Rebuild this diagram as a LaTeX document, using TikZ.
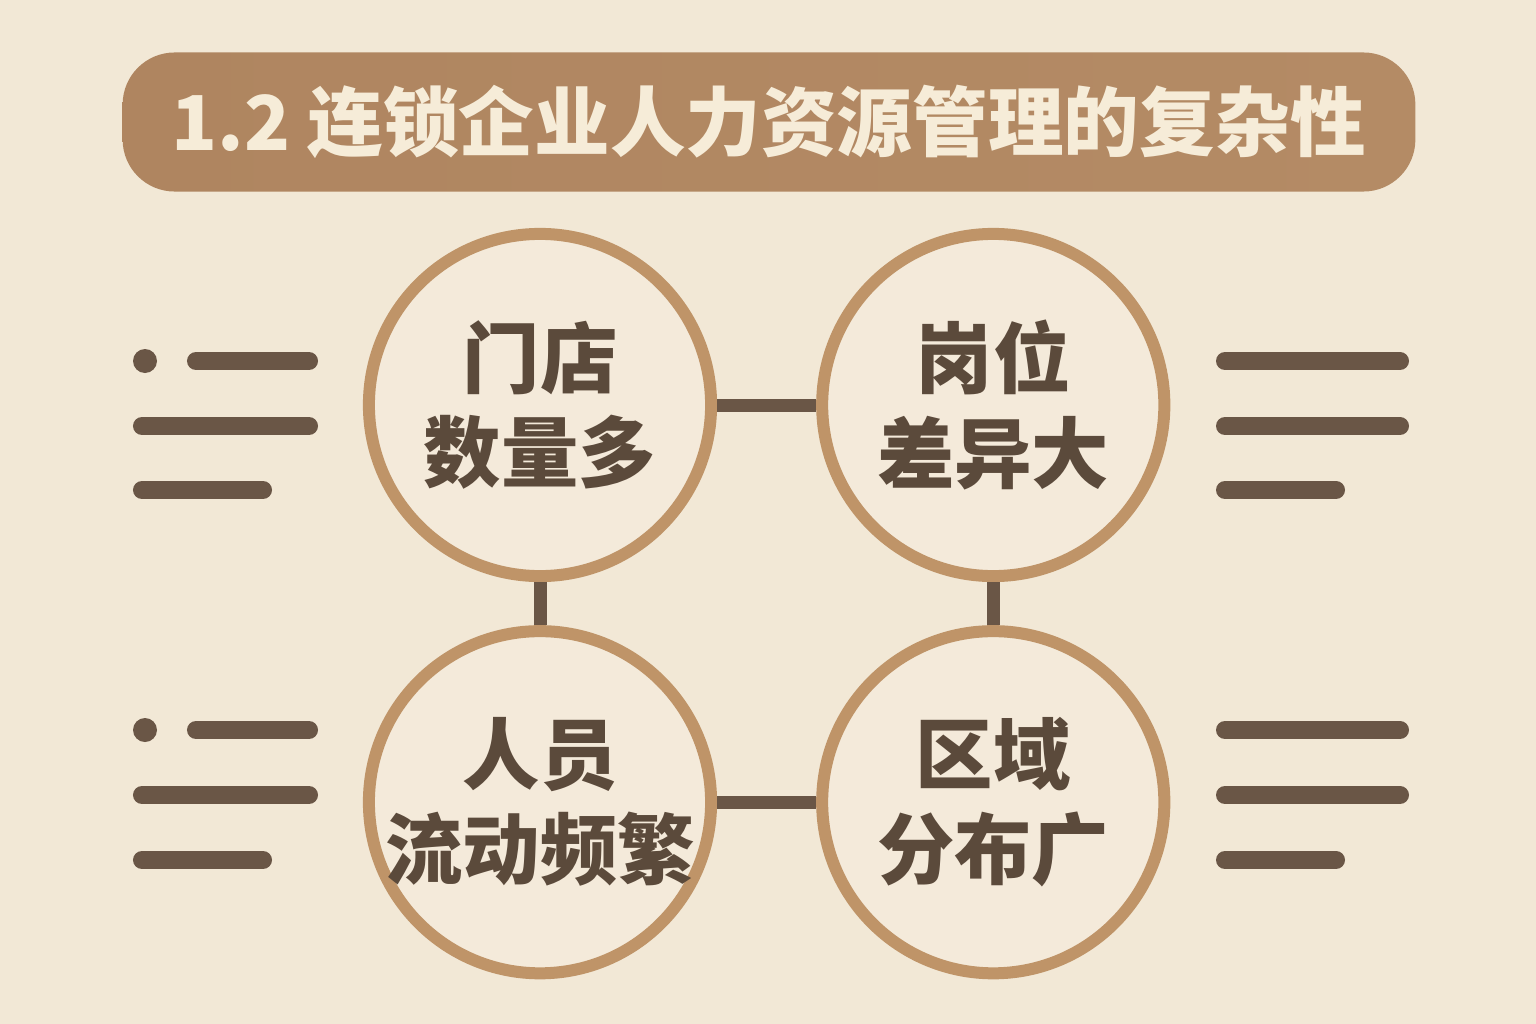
\documentclass[tikz,border=0pt]{standalone}
\usepackage{fontspec}
\usepackage{tikz}
\usetikzlibrary{positioning}
\newfontfamily\cjk{Noto Sans CJK SC}
\definecolor{paper}{HTML}{F2E8D6}
\definecolor{disc}{HTML}{F4EADA}
\definecolor{ring}{HTML}{BF9468}
\definecolor{umber}{HTML}{6A5646}
\definecolor{ink}{HTML}{5B4A3B}
\definecolor{cream}{HTML}{F6ECD8}
\definecolor{tanleft}{HTML}{AF8560}
\definecolor{tanmid}{HTML}{C09870}
\definecolor{tanright}{HTML}{B48B65}
\tikzstyle{banner} = [rectangle, rounded corners=0.52cm, minimum width=12.92cm, minimum height=1.39cm, left color=tanleft, middle color=tanmid, right color=tanright, text=cream, font=\cjk\bfseries\fontsize{21.5}{26}\selectfont]
\tikzstyle{topic} = [circle, minimum size=3.42cm, inner sep=-0.3cm, line width=0.12cm, draw=ring, fill=disc, text=ink, align=center, font=\cjk\bfseries\fontsize{22}{27}\selectfont]
\tikzstyle{link} = [line width=0.13cm, draw=umber]
\tikzstyle{stripe} = [line width=0.18cm, line cap=round, draw=umber]

\begin{document}
\begin{tikzpicture}[x=0.01cm,y=-0.01cm]
\useasboundingbox (0,0) rectangle (1536,1024);
\fill[paper] (0,0) rectangle (1536,1024);
\node[banner] (title) at (769,122) {1.2 连锁企业人力资源管理的复杂性};
\node[topic] (store) at (540,405) {门店\\数量多};
\node[topic, right=0.99cm of store] (post) {岗位\\差异大};
\node[topic, below=0.43cm of store] (staff) {人员\\流动频繁};
\node[topic, right=0.99cm of staff] (area) {区域\\分布广};
\draw[link] (store) -- (post);
\draw[link] (store) -- (staff);
\draw[link] (post) -- (area);
\draw[link] (staff) -- (area);
\fill[umber] (145,361) circle (12);
\draw[stripe] (196,361) -- (309,361);
\draw[stripe] (142,426) -- (309,426);
\draw[stripe] (142,490) -- (263,490);
\fill[umber] (145,730) circle (12);
\draw[stripe] (196,730) -- (309,730);
\draw[stripe] (142,795) -- (309,795);
\draw[stripe] (142,860) -- (263,860);
\draw[stripe] (1225,361) -- (1400,361);
\draw[stripe] (1225,426) -- (1400,426);
\draw[stripe] (1225,490) -- (1336,490);
\draw[stripe] (1225,730) -- (1400,730);
\draw[stripe] (1225,795) -- (1400,795);
\draw[stripe] (1225,860) -- (1336,860);
\end{tikzpicture}
\end{document}
